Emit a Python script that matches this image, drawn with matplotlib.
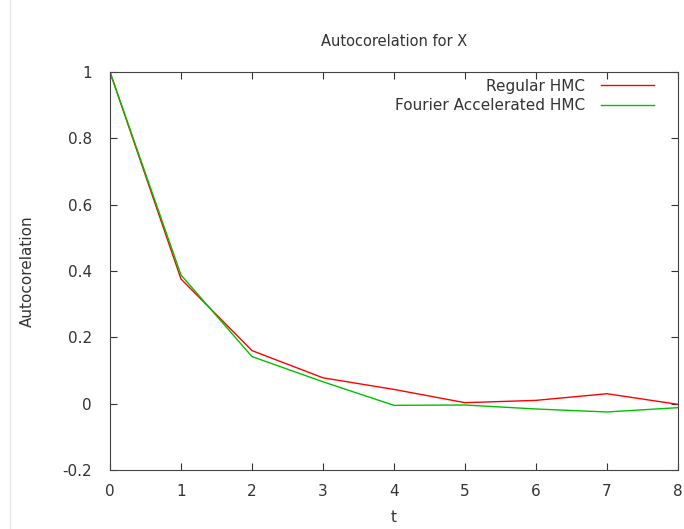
import matplotlib
matplotlib.use('Agg')
import matplotlib.pyplot as plt
from matplotlib.lines import Line2D

t = [0, 1, 2, 3, 4, 5, 6, 7, 8]
regular_hmc = [1.0, 0.376, 0.160, 0.078, 0.043, 0.003, 0.010, 0.030, -0.002]
fourier_hmc = [1.0, 0.388, 0.142, 0.066, -0.005, -0.004, -0.016, -0.025, -0.012]

plt.rcParams['font.family'] = 'DejaVu Sans'

fig = plt.figure(figsize=(6.84, 5.29), dpi=100)
ax = fig.add_axes([0.1608, 0.1115, 0.8304, 0.7524])

ax.plot(t, regular_hmc, color='#ff0000', lw=1, label='Regular HMC')
ax.plot(t, fourier_hmc, color='#00c000', lw=1, label='Fourier Accelerated HMC')

ax.set_xlim(0, 8)
ax.set_ylim(-0.2, 1)
ax.set_xticks(t)
ax.set_yticks([-0.2, 0, 0.2, 0.4, 0.6, 0.8, 1])
ax.set_yticklabels(['-0.2', '0', '0.2', '0.4', '0.6', '0.8', '1'])
ax.tick_params(direction='in', top=True, right=True, length=5, labelsize=11,
               colors='#333333')
ax.tick_params(axis='x', pad=10)
ax.tick_params(axis='y', pad=13)
for s in ax.spines.values():
    s.set_color('#444444')

ax.set_title('Autocorelation for X', fontsize=10.5, color='#333333', pad=19)
ax.set_xlabel('t', fontsize=11, color='#333333', labelpad=8)
ax.set_ylabel('Autocorelation', fontsize=11, color='#333333', labelpad=20)

ax.legend(loc='upper right', bbox_to_anchor=(0.977, 1.01), frameon=False,
          markerfirst=False, fontsize=11, handlelength=3.5, borderaxespad=0.3,
          labelspacing=0.3, handletextpad=1.0, labelcolor='#333333')

# faint screenshot border on the left
fig.add_artist(Line2D([0.0146, 0.0146], [0, 1], color='#e8e8e8', lw=1))

fig.savefig('out.png', dpi=100)
